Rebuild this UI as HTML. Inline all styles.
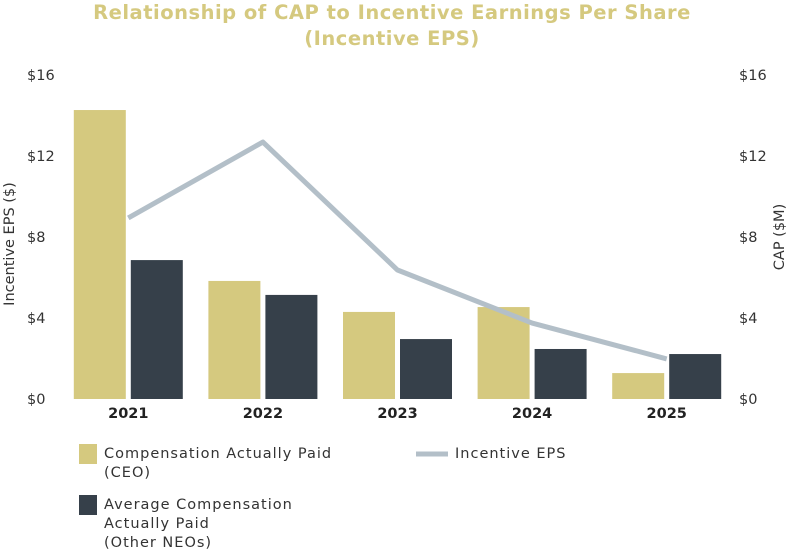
<!DOCTYPE html>
<html><head><meta charset="utf-8"><style>
body{margin:0;background:#fff;width:790px;height:552px;overflow:hidden;font-family:"DejaVu Sans",sans-serif}
svg text{font-family:"DejaVu Sans",sans-serif}
.lg{letter-spacing:1px}
</style></head><body>
<svg id="chart" width="790" height="552">
<text x="392" y="19" text-anchor="middle" font-size="19.5" font-weight="bold" fill="#d5c97f" letter-spacing="0.5">Relationship of CAP to Incentive Earnings Per Share</text>
<text x="392" y="45" text-anchor="middle" font-size="19.5" font-weight="bold" fill="#d5c97f" letter-spacing="0.5">(Incentive EPS)</text>
<text transform="translate(14,244) rotate(-90)" text-anchor="middle" font-size="14.5" fill="#333">Incentive EPS ($)</text>
<text transform="translate(784,237) rotate(-90)" text-anchor="middle" font-size="14.5" fill="#333">CAP ($M)</text>
<g id="ticks"></g><g id="bars"></g><g id="line"></g><g id="xlabels"></g>
<rect x="79" y="444" width="18" height="20" fill="#d5c97f"/>
<text class="lg" x="104" y="458" font-size="14.5" fill="#333">Compensation Actually Paid</text>
<text class="lg" x="104" y="477" font-size="14.5" fill="#333">(CEO)</text>
<rect x="79" y="495" width="18" height="20" fill="#36404a"/>
<text class="lg" x="104" y="509" font-size="14.5" fill="#333">Average Compensation</text>
<text class="lg" x="104" y="528" font-size="14.5" fill="#333">Actually Paid</text>
<text class="lg" x="104" y="547" font-size="14.5" fill="#333">(Other NEOs)</text>
<line x1="416" y1="454" x2="448" y2="454" stroke="#b3bfc8" stroke-width="5"/>
<text class="lg" x="455" y="458" font-size="14.5" fill="#333">Incentive EPS</text>
</svg>
<script>
const categories=["2021","2022","2023","2024","2025"];
const ceoCap=[14.27,5.83,4.3,4.54,1.28];
const neoCap=[6.86,5.14,2.96,2.47,2.22];
const eps=[8.94,12.69,6.37,3.75,1.98];
const tickValues=[0,4,8,12,16];
const tickLabels=["$0","$4","$8","$12","$16"];
const NS="http://www.w3.org/2000/svg";
const y0=399,yTop=75,yMax=16;
const y=v=>y0-(v/yMax)*(y0-yTop);
const x0=61,band=134.6;
const xc=i=>x0+band*(i+0.5);
const bw=52,gap=5;
function mk(tag,attrs,parent){const e=document.createElementNS(NS,tag);for(const k in attrs)e.setAttribute(k,attrs[k]);document.getElementById(parent).appendChild(e);return e;}
tickValues.forEach((v,i)=>{
 let t=mk("text",{x:27,y:y(v)+5,"font-size":14.5,fill:"#333"},"ticks");t.textContent=tickLabels[i];
 
 
 let r=mk("text",{x:739,y:y(v)+5,"font-size":14.5,fill:"#333"},"ticks");r.textContent=tickLabels[i];
 
 
});
categories.forEach((c,i)=>{
 let a=mk("rect",{x:xc(i)-gap/2-bw,y:y(ceoCap[i]),width:bw,height:y0-y(ceoCap[i]),fill:"#d5c97f"},"bars");
 
 
 let b=mk("rect",{x:xc(i)+gap/2,y:y(neoCap[i]),width:bw,height:y0-y(neoCap[i]),fill:"#36404a"},"bars");
 
 
 let t=mk("text",{x:xc(i),y:418,"text-anchor":"middle","font-size":14.5,"font-weight":"bold",fill:"#222"},"xlabels");t.textContent=c;
 
 
});
const pts=eps.map((v,i)=>xc(i)+","+y(v)).join(" ");
const pl=mk("polyline",{points:pts,fill:"none",stroke:"#b3bfc8","stroke-width":5,"stroke-linejoin":"round"},"line");


</script>
</body></html>
